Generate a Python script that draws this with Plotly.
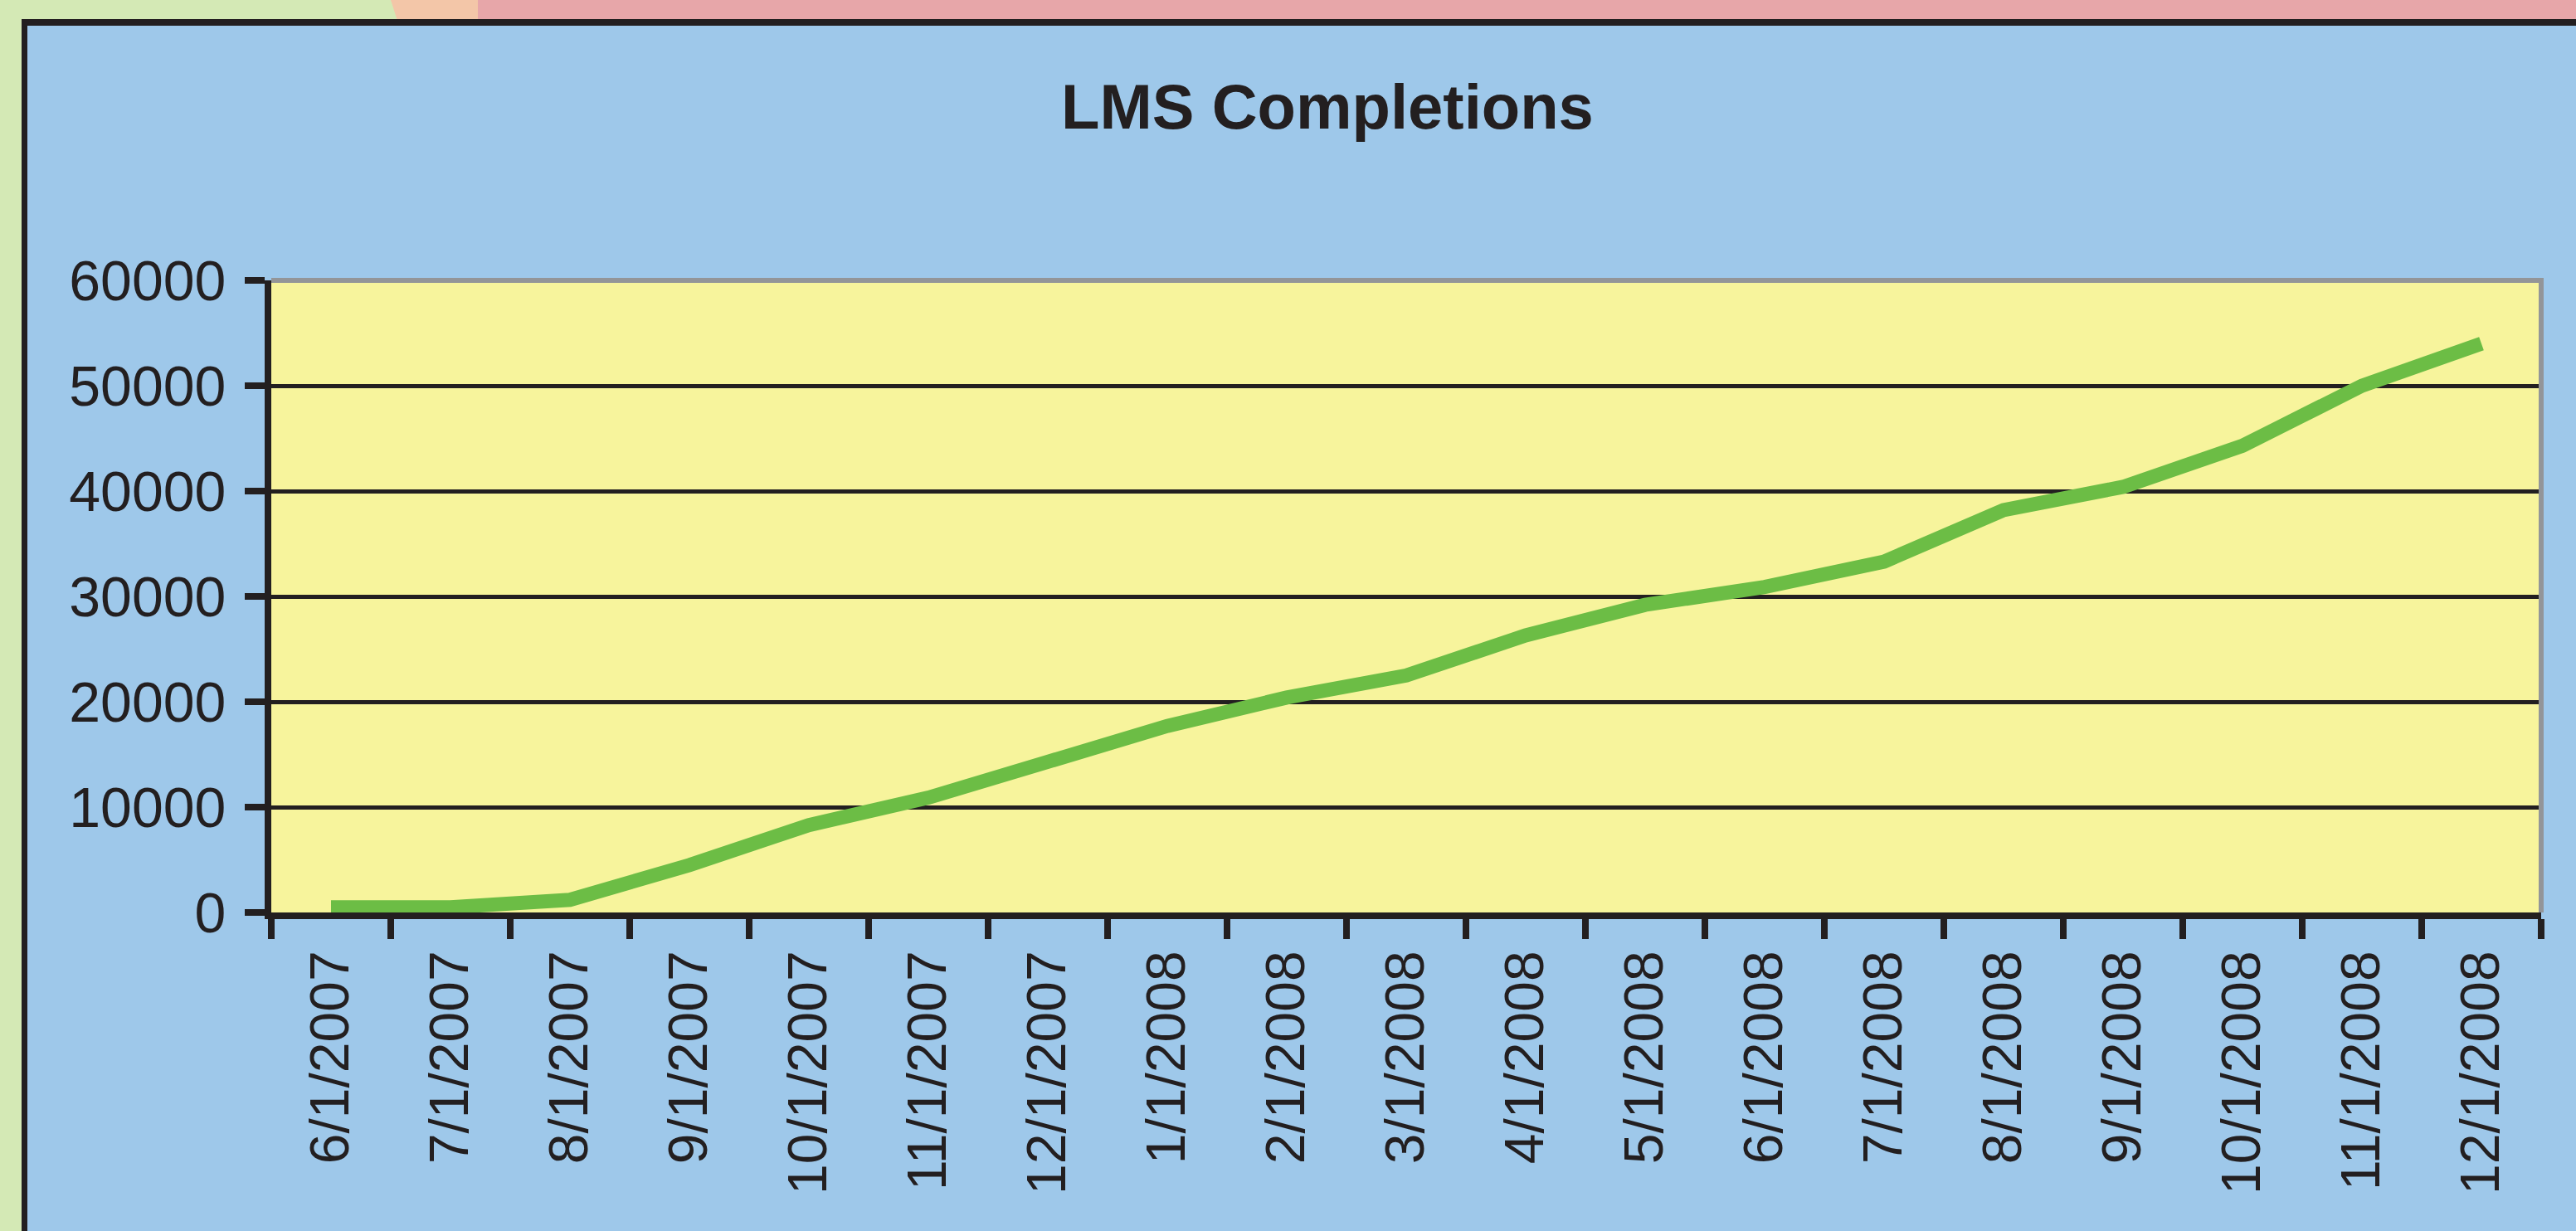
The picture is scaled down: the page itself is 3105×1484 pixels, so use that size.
import plotly.graph_objects as go

# ---- data ----
months = ["6/1/2007", "7/1/2007", "8/1/2007", "9/1/2007", "10/1/2007", "11/1/2007",
          "12/1/2007", "1/1/2008", "2/1/2008", "3/1/2008", "4/1/2008", "5/1/2008",
          "6/1/2008", "7/1/2008", "8/1/2008", "9/1/2008", "10/1/2008", "11/1/2008",
          "12/1/2008"]
completions = [500, 500, 1200, 4500, 8300, 10900, 14300, 17700, 20400, 22500,
               26300, 29200, 30900, 33300, 38200, 40400, 44300, 50000, 54000]
y_ticks = [0, 10000, 20000, 30000, 40000, 50000, 60000]
title_text = "LMS Completions"

# ---- layout geometry (pixels) ----
W, H = 3105, 1484
L, R, T, B = 327, 3063, 338, 1100  # plot area edges


def px(x):
    return (x - L) / (R - L)


def py(y):
    return (B - y) / (B - T)


BLUE = "#9EC8EA"
YELLOW = "#F7F49C"
GREEN_BG = "#D4E9B5"
PEACH = "#F3C6A8"
PINK = "#E7A6A9"
LINE_GREEN = "#6CBD45"
INK = "#231F20"
GRAY = "#939598"

fig = go.Figure()
fig.add_trace(go.Scatter(
    x=months, y=completions, mode="lines",
    line=dict(color=LINE_GREEN, width=17),
    showlegend=False, hoverinfo="skip",
))

shapes = []


def rect(x0, y0, x1, y1, color, layer="below"):
    shapes.append(dict(type="rect", xref="paper", yref="paper",
                       x0=px(x0), x1=px(x1), y0=py(y0), y1=py(y1),
                       fillcolor=color, line=dict(width=0), layer=layer))


# top band and left strip
rect(0, 0, W, 28, GREEN_BG)
rect(576, 0, W, 28, PINK)
shapes.append(dict(type="path", xref="paper", yref="paper",
                   path=f"M {px(471)} {py(0)} L {px(576)} {py(0)} L {px(576)} {py(28)} L {px(480)} {py(28)} Z",
                   fillcolor=PEACH, line=dict(width=0), layer="below"))
rect(0, 0, 27, H, GREEN_BG)
# black frame (top and left)
rect(26, 23, W, 31, INK)
rect(26, 23, 33, H, INK)
# gray top & right border of plot area
shapes.append(dict(type="line", xref="paper", yref="paper",
                   x0=0, x1=1, y0=1, y1=1, line=dict(color=GRAY, width=6), layer="above"))
shapes.append(dict(type="line", xref="paper", yref="paper",
                   x0=1, x1=1, y0=0, y1=1.004, line=dict(color=GRAY, width=6), layer="above"))

fig.update_layout(
    width=W, height=H,
    margin=dict(l=L, r=W - R, t=T, b=H - B, pad=0),
    paper_bgcolor=BLUE,
    plot_bgcolor=YELLOW,
    shapes=shapes,
    title=dict(text=title_text, x=1600 / W, xref="container", xanchor="center",
               y=1 - 128 / H, yref="container", yanchor="middle",
               font=dict(family="Liberation Sans", size=76, color=INK, weight=700)),
    xaxis=dict(type="category", range=[-0.5, len(months) - 0.5],
               tickson="boundaries", ticks="outside", ticklen=24, tickwidth=8,
               tickcolor=INK, showline=True, linewidth=8, linecolor=INK,
               showgrid=False, zeroline=False, tickangle=-90,
               tickfont=dict(family="Liberation Sans", size=66, color=INK),
               ticklabelstandoff=12),
    yaxis=dict(range=[0, 60000], tickvals=y_ticks, ticktext=[str(v) for v in y_ticks],
               ticks="outside", ticklen=24, tickwidth=8, tickcolor=INK,
               showline=True, linewidth=8, linecolor=INK,
               showgrid=True, gridcolor=INK, gridwidth=5, zeroline=False,
               tickfont=dict(family="Liberation Sans", size=68, color=INK),
               ticklabelstandoff=9),
)

fig.write_html("out.html", config={"displayModeBar": False},
               post_script="document.body.style.margin='0';document.body.style.overflow='hidden';")
